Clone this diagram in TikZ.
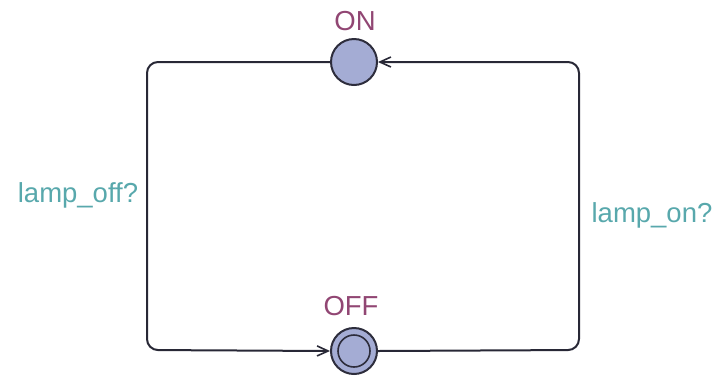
\documentclass[tikz,border=0pt]{standalone}
\usepackage{fontspec}
\setmainfont{Liberation Sans}
\usetikzlibrary{arrows.meta}
\definecolor{locfill}{RGB}{164,172,212}
\definecolor{locline}{RGB}{45,45,60}
\definecolor{locname}{RGB}{145,70,115}
\definecolor{synccol}{RGB}{88,168,172}
\tikzset{
  loc/.style={circle,draw=locline,fill=locfill,line width=2pt,minimum size=46pt,inner sep=0pt},
  inner loc/.style={circle,draw=locline,fill=locfill,line width=1.6pt,minimum size=32pt,inner sep=0pt},
  lname/.style={text=locname,font=\fontsize{27.5}{32}\selectfont,inner sep=0pt,anchor=base},
  sync/.style={text=synccol,font=\fontsize{27.5}{32}\selectfont,inner sep=0pt,anchor=base},
  edge/.style={draw=locline!90!black,line width=2pt,rounded corners=11pt,-{Straight Barb[length=11pt,width=10pt,line width=1.6pt]}}
}
\begin{document}
\begin{tikzpicture}[x=1pt,y=-1pt]
\useasboundingbox (0,0) rectangle (723,376);
\node[loc] (on) at (354,62) {};
\node[loc] (off) at (354,351) {};
\node[inner loc] (offin) at (354,351) {};
\node[lname] (onname) at (355,30) {ON};
\node[lname] (offname) at (351,315) {OFF};
\coordinate (tl) at (147,62);
\coordinate (bl) at (147,350);
\coordinate (br) at (579,350);
\coordinate (tr) at (579,62);
\draw[edge] (on.west) -- (tl) -- (bl) -- (off.west);
\draw[edge] (off.east) -- (br) -- (tr) -- (on.east);
\node[sync] (loff) at (78,202) {lamp\_off?};
\node[sync] (lon) at (652,222) {lamp\_on?};
\end{tikzpicture}
\end{document}
